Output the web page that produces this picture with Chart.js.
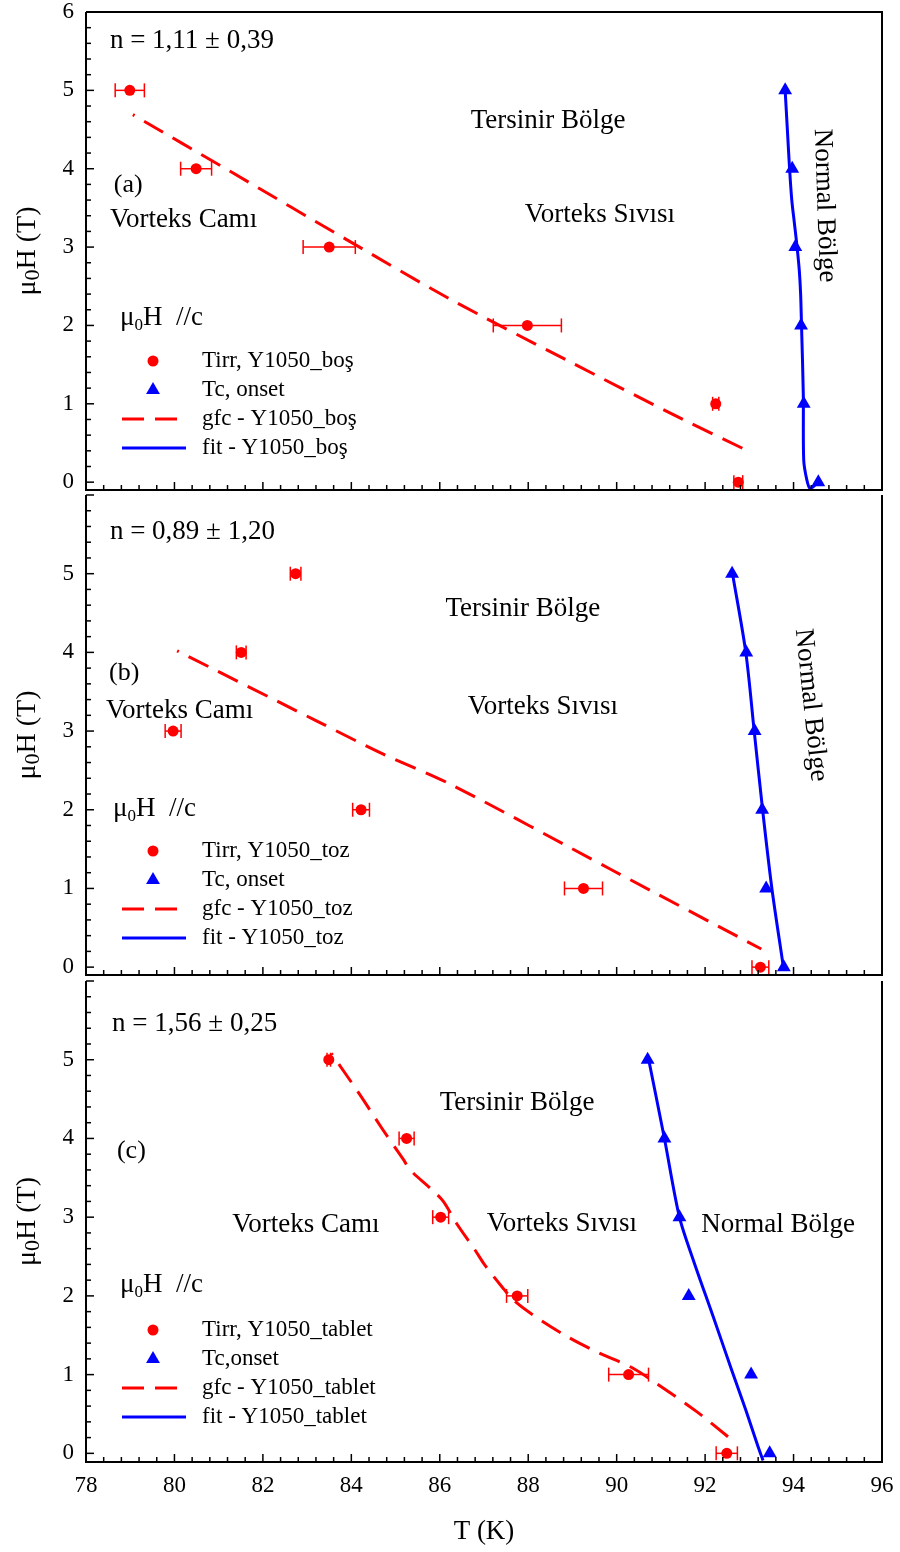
<!DOCTYPE html>
<html>
<head>
<meta charset="utf-8">
<title>Y1050 faz diyagramı</title>
<script src="https://cdn.jsdelivr.net/npm/chart.js@4.4.1/dist/chart.umd.min.js"></script>
<style>
  html, body { margin: 0; padding: 0; background: #fff; }
  #page { position: relative; width: 900px; height: 1552px; }
  .panel { position: absolute; left: 0; width: 900px; }
</style>
</head>
<body>
<div id="page">
  <div class="panel" style="top:0px;height:491px"><canvas id="chartA"></canvas></div>
  <div class="panel" style="top:491px;height:486px"><canvas id="chartB"></canvas></div>
  <div class="panel" style="top:977px;height:575px"><canvas id="chartC"></canvas></div>
</div>
<script>
// field steps (T), same for all three samples
const fields = [5, 4, 3, 2, 1, 0];

// (a) Y1050_boş
const tirrA = [78.99, 80.49, 83.50, 87.98, 92.24, 92.75];
const tirrErrA = [0.33, 0.35, 0.59, 0.77, 0.07, 0.10];
const tcA = [93.81, 93.97, 94.04, 94.17, 94.23, 94.56];
const gfcTA = [79.06, 81.25, 84.00, 86.22, 88.86, 91.50, 92.89];
const gfcHA = [4.69, 3.97, 3.06, 2.34, 1.56, 0.80, 0.42];
const fitTA = [93.81, 93.86, 93.91, 93.96, 94.02, 94.08, 94.13, 94.16, 94.18, 94.22, 94.23, 94.30, 94.37, 94.48, 94.60];
const fitHA = [5.00, 4.50, 4.00, 3.60, 3.30, 3.00, 2.70, 2.40, 2.00, 1.13, 0.28, 0.03, -0.08, -0.04, 0.01];
const legendA = ["Tirr, Y1050_boş", "Tc, onset", "gfc - Y1050_boş", "fit - Y1050_boş"];

// (b) Y1050_toz
const tirrB = [82.74, 81.51, 79.97, 84.22, 89.25, 93.25];
const tirrErrB = [0.12, 0.11, 0.18, 0.19, 0.43, 0.19];
const tcB = [92.61, 92.93, 93.12, 93.29, 93.38, 93.78];
const gfcTB = [80.06, 83.21, 84.71, 86.22, 89.84, 93.27];
const gfcHB = [4.02, 3.13, 2.71, 2.33, 1.25, 0.23];
const fitTB = [92.62, 92.92, 93.11, 93.30, 93.51, 93.76];
const fitHB = [5.00, 4.00, 3.00, 2.00, 1.00, 0.04];
const legendB = ["Tirr, Y1050_toz", "Tc, onset", "gfc - Y1050_toz", "fit - Y1050_toz"];

// (c) Y1050_tablet
const tirrC = [83.49, 85.25, 86.02, 87.75, 90.27, 92.49];
const tirrErrC = [0.04, 0.17, 0.18, 0.24, 0.45, 0.24];
const tcC = [90.70, 91.08, 91.42, 91.63, 93.04, 93.46];
const gfcTC = [83.55, 84.20, 84.69, 85.18, 85.33, 85.82, 86.08, 86.38, 86.80, 87.02, 87.40, 87.66, 88.10, 88.86, 89.58, 90.34, 91.05, 91.81, 92.52];
const gfcHC = [5.08, 4.55, 4.13, 3.73, 3.60, 3.35, 3.20, 2.92, 2.58, 2.39, 2.12, 1.95, 1.76, 1.49, 1.28, 1.09, 0.83, 0.53, 0.21];
const fitTC = [90.71, 91.08, 91.42, 91.73, 92.18, 92.60, 92.92, 93.20, 93.31];
const fitHC = [5.04, 4.00, 3.00, 2.46, 1.74, 1.06, 0.55, 0.08, -0.09];
const legendC = ["Tirr, Y1050_tablet", "Tc,onset", "gfc - Y1050_tablet", "fit - Y1050_tablet"];

const xTicks = [78, 80, 82, 84, 86, 88, 90, 92, 94, 96];

const RED = "#ff0000";
const BLUE = "#0000ff";
const SERIF = '"Liberation Serif", "Times New Roman", serif';

function toPoints(xs, ys) {
  return xs.map((x, i) => ({ x: x, y: ys[i] }));
}

function makeDatasets(tirr, tirrErr, tc, gfcT, gfcH, fitT, fitH, labels) {
  return [
    { label: labels[0], data: toPoints(tirr, fields), errX: tirrErr, pointStyle: "circle",
      pointRadius: 5.5, backgroundColor: RED, borderColor: RED, borderWidth: 0, showLine: false },
    { label: labels[1], data: toPoints(tc, fields), pointStyle: "triangle",
      pointRadius: 8, backgroundColor: BLUE, borderColor: BLUE, borderWidth: 0, showLine: false },
    { label: labels[2], data: toPoints(gfcT, gfcH), showLine: true, borderColor: RED, borderWidth: 3,
      borderDash: [22, 11], borderDashOffset: 20, pointRadius: 0, tension: 0.3 },
    { label: labels[3], data: toPoints(fitT, fitH), showLine: true, borderColor: BLUE, borderWidth: 3,
      pointRadius: 0, tension: 0.3 },
  ];
}

function line(ctx, x1, y1, x2, y2) {
  ctx.beginPath(); ctx.moveTo(x1, y1); ctx.lineTo(x2, y2); ctx.stroke();
}

const deco = {
  id: "deco",
  beforeDatasetsDraw(chart) {
    const ctx = chart.ctx, xs = chart.scales.x, ys = chart.scales.y;
    ctx.save();
    ctx.lineWidth = 1.5;
    chart.data.datasets.forEach(ds => {
      if (!ds.errX) return;
      ctx.strokeStyle = ds.borderColor;
      ds.data.forEach((p, i) => {
        const e = ds.errX[i];
        const x1 = xs.getPixelForValue(p.x - e), x2 = xs.getPixelForValue(p.x + e);
        const y = ys.getPixelForValue(p.y);
        line(ctx, x1, y, x2, y);
        line(ctx, x1, y - 7, x1, y + 7);
        line(ctx, x2, y - 7, x2, y + 7);
      });
    });
    ctx.restore();
  },
  afterDraw(chart, args, o) {
    const ctx = chart.ctx, xs = chart.scales.x, ys = chart.scales.y;
    const a = chart.chartArea;
    ctx.save();
    // frame
    ctx.strokeStyle = "#000";
    ctx.lineWidth = 2;
    ctx.beginPath();
    ctx.moveTo(a.left, a.top);
    ctx.lineTo(a.left, a.bottom);
    ctx.lineTo(a.right, a.bottom);
    ctx.lineTo(a.right, a.top);
    if (o.topLine) ctx.lineTo(a.left, a.top);
    ctx.stroke();
    // inward ticks
    ctx.lineWidth = 1.5;
    for (let k = 0; k <= 45; k++) {
      const px = xs.getPixelForValue(78 + 0.4 * k);
      line(ctx, px, a.bottom, px, a.bottom - (k % 5 === 0 ? 8 : 5));
    }
    for (let k = 0; k <= 30; k++) {
      const py = ys.getPixelForValue(0.2 * k);
      if (py < a.top - 0.5) continue;
      line(ctx, a.left, py, a.left + (k % 5 === 0 ? 8 : 5), py);
    }
    // text labels
    ctx.fillStyle = "#000";
    ctx.textBaseline = "middle";
    o.texts.forEach(t => {
      ctx.save();
      ctx.font = (t.size || 27) + "px " + SERIF;
      ctx.textAlign = t.align || "center";
      ctx.translate(xs.getPixelForValue(t.x), ys.getPixelForValue(t.y));
      if (t.rot) ctx.rotate(t.rot * Math.PI / 180);
      ctx.fillText(t.text, 0, 0);
      ctx.restore();
    });
    // y title  μ0H (T)
    ctx.save();
    ctx.translate(28, (a.top + a.bottom) / 2);
    ctx.rotate(-Math.PI / 2);
    ctx.font = "28px " + SERIF;
    const w1 = ctx.measureText("μ").width, w3 = ctx.measureText("H (T)").width;
    ctx.font = "22px " + SERIF;
    const w2 = ctx.measureText("0").width;
    let tx = -(w1 + w2 + w3) / 2;
    ctx.textAlign = "left";
    ctx.font = "28px " + SERIF;
    ctx.fillText("μ", tx, 0); tx += w1;
    ctx.font = "22px " + SERIF;
    ctx.fillText("0", tx, 5); tx += w2;
    ctx.font = "28px " + SERIF;
    ctx.fillText("H (T)", tx, 0);
    ctx.restore();
    // legend
    const L = o.legend;
    let lx = L.x;
    const ty = a.top + L.titleY;
    ctx.textAlign = "left";
    ctx.font = "27px " + SERIF;
    ctx.fillText("μ", lx, ty); lx += ctx.measureText("μ").width;
    ctx.font = "17px " + SERIF;
    ctx.fillText("0", lx, ty + 8); lx += ctx.measureText("0").width;
    ctx.font = "27px " + SERIF;
    ctx.fillText("H  //c", lx, ty);
    chart.data.datasets.forEach((ds, i) => {
      const y = a.top + L.rowY + i * 29;
      ctx.save();
      if (ds.showLine) {
        ctx.strokeStyle = ds.borderColor;
        ctx.lineWidth = 3;
        ctx.setLineDash(ds.borderDash || []);
        line(ctx, 122, y, ds.borderDash ? 177 : 186, y);
      } else {
        ctx.fillStyle = ds.backgroundColor;
        const r = ds.pointRadius;
        ctx.beginPath();
        if (ds.pointStyle === "triangle") {
          ctx.moveTo(153, y - r);
          ctx.lineTo(153 + r * 0.866, y + r / 2);
          ctx.lineTo(153 - r * 0.866, y + r / 2);
          ctx.closePath();
        } else {
          ctx.arc(153, y, r, 0, Math.PI * 2);
        }
        ctx.fill();
      }
      ctx.restore();
      ctx.font = "23px " + SERIF;
      ctx.fillStyle = "#000";
      ctx.fillText(ds.label, 202, y);
    });
    ctx.restore();
  },
};

function makeChart(id, datasets, p) {
  return new Chart(document.getElementById(id), {
    type: "scatter",
    data: { datasets: datasets },
    plugins: [deco],
    options: {
      responsive: true,
      maintainAspectRatio: false,
      animation: false,
      events: [],
      layout: { autoPadding: false, padding: { left: 0, right: 18, top: p.padTop, bottom: p.padBottom } },
      plugins: {
        legend: { display: false },
        tooltip: { enabled: false },
        deco: { topLine: p.topLine, texts: p.texts, legend: p.legend },
      },
      scales: {
        x: {
          type: "linear", min: 78, max: 96,
          afterFit: s => { s.height = p.xHeight; s.paddingLeft = 0; s.paddingRight = 0; },
          grid: { display: false, drawTicks: false },
          border: { display: false },
          afterBuildTicks: s => { s.ticks = xTicks.map(v => ({ value: v })); },
          ticks: { display: p.showX, padding: 10, color: "#000", font: { family: SERIF, size: 23 } },
          title: { display: p.showX, text: "T (K)", color: "#000", font: { family: SERIF, size: 27 }, padding: { top: 0, bottom: 4 } },
        },
        y: {
          type: "linear", min: p.yMin, max: 6,
          afterFit: s => { s.width = 86; s.paddingTop = 0; s.paddingBottom = 0; },
          grid: { display: false, drawTicks: false },
          border: { display: false },
          afterBuildTicks: s => { s.ticks = fields.concat(p.label6 ? [6] : []).map(v => ({ value: v })); },
          ticks: { padding: 12, color: "#000", font: { family: SERIF, size: 23, lineHeight: 0.01 } },
        },
      },
    },
  });
}

makeChart("chartA", makeDatasets(tirrA, tirrErrA, tcA, gfcTA, gfcHA, fitTA, fitHA, legendA), {
  padTop: 12, padBottom: 1, xHeight: 0, showX: false, yMin: -0.1, label6: true, topLine: true,
  legend: { x: 120, titleY: 306, rowY: 349 },
  texts: [
    { text: "n = 1,11 ± 0,39", x: 78.54, y: 5.63, align: "left" },
    { text: "Tersinir Bölge", x: 88.45, y: 4.61 },
    { text: "(a)", x: 78.63, y: 3.79, align: "left", size: 26 },
    { text: "Vorteks Camı", x: 78.54, y: 3.35, align: "left" },
    { text: "Vorteks Sıvısı", x: 89.62, y: 3.41 },
    { text: "Normal Bölge", x: 94.70, y: 3.53, rot: 88 },
  ],
});

makeChart("chartB", makeDatasets(tirrB, tirrErrB, tcB, gfcTB, gfcHB, fitTB, fitHB, legendB), {
  padTop: 4, padBottom: 2, xHeight: 0, showX: false, yMin: -0.1, label6: false, topLine: false,
  legend: { x: 113, titleY: 314, rowY: 356 },
  texts: [
    { text: "n = 0,89 ± 1,20", x: 78.54, y: 5.53, align: "left" },
    { text: "Tersinir Bölge", x: 87.88, y: 4.55 },
    { text: "(b)", x: 78.52, y: 3.74, align: "left", size: 26 },
    { text: "Vorteks Camı", x: 78.45, y: 3.25, align: "left" },
    { text: "Vorteks Sıvısı", x: 88.33, y: 3.31 },
    { text: "Normal Bölge", x: 94.39, y: 3.33, rot: 84 },
  ],
});

makeChart("chartC", makeDatasets(tirrC, tirrErrC, tcC, gfcTC, gfcHC, fitTC, fitHC, legendC), {
  padTop: 4, padBottom: 0, xHeight: 90, showX: true, yMin: -0.11, label6: false, topLine: false,
  legend: { x: 120, titleY: 304, rowY: 349 },
  texts: [
    { text: "n = 1,56 ± 0,25", x: 78.59, y: 5.45, align: "left" },
    { text: "Tersinir Bölge", x: 87.75, y: 4.45 },
    { text: "(c)", x: 78.70, y: 3.84, align: "left", size: 26 },
    { text: "Vorteks Camı", x: 82.97, y: 2.90 },
    { text: "Vorteks Sıvısı", x: 88.76, y: 2.91 },
    { text: "Normal Bölge", x: 93.65, y: 2.90 },
  ],
});
</script>
</body>
</html>
